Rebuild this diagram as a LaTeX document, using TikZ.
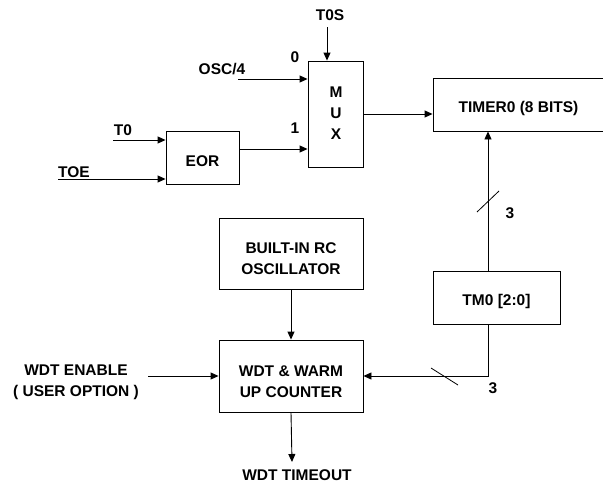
\documentclass[tikz,border=0pt]{standalone}
\usepackage{fontspec}
\setmainfont{Liberation Sans}
\usetikzlibrary{arrows.meta}
\begin{document}
\begin{tikzpicture}[x=1pt,y=-1pt,
  every node/.style={font=\fontsize{15.5}{21}\selectfont\bfseries, inner sep=0pt},
  blk/.style={draw, line width=0.9pt, align=center},
  wire/.style={line width=0.9pt},
  arr/.style={wire, -{Triangle[length=8pt,width=7pt]}},
  tick/.style={line width=0.8pt}]
\useasboundingbox (0,0) rectangle (603,485);
% blocks
\node[blk, minimum width=55pt, minimum height=106pt] (mux) at (335.5,114) {};
\node (muxt) at (336,113) [align=center] {M\\U\\X};
\node[blk, minimum width=73pt, minimum height=53pt] (eor) at (202.5,157.5) {};
\node (eort) at (202.5,161) {EOR};
\node[blk, minimum width=173pt, minimum height=53pt] (timer) at (519.5,104.5) {};
\node (timert) at (518.5,108) {TIMER0 (8 BITS)};
\node[blk, minimum width=127pt, minimum height=53pt] (tm0) at (496.5,297.5) {};
\node (tm0t) at (496.5,301) {TM0 [2:0]};
\node[blk, minimum width=144pt, minimum height=71pt] (rc) at (291,253.5) {};
\node (rct) at (291,259) [align=center] {BUILT-IN RC\\OSCILLATOR};
\node[blk, minimum width=144pt, minimum height=72pt] (wdt) at (291,376) {};
\node (wdtt) at (291,382) [align=center] {WDT \& WARM\\UP COUNTER};
% labels
\node (t0s) at (330,15) {T0S};
\node (osc) at (222,69) {OSC/4};
\node (l0) at (295,57) {0};
\node (l1) at (295,128) {1};
\node (t0) at (123,130) {T0};
\node (toe) at (74,172) {TOE};
\node (en) at (76,382) [align=center] {WDT ENABLE\\( USER OPTION )};
\node (timeout) at (297,475) {WDT TIMEOUT};
\node (n3a) at (510,213) {3};
\node (n3b) at (493,388) {3};
% free ends
\coordinate (t0sin) at (327,27);
\coordinate (oscin) at (238,79);
\coordinate (t0in) at (113,140);
\coordinate (toein) at (58,179);
\coordinate (enin) at (148,376);
\coordinate (toend) at (292,462);
\coordinate (eorout) at (239,149);
\coordinate (bus) at (488,0);
% connectors
\draw[arr] (t0sin) -- (t0sin |- mux.north);
\draw[arr] (oscin) -- (oscin -| mux.west);
\draw[arr] (eorout) -- (eorout -| mux.west);
\draw[arr] (t0in) -- (t0in -| eor.west);
\draw[arr] (toein) -- (toein -| eor.west);
\draw[arr] (mux.east) -- (mux.east -| timer.west);
\draw[arr] (bus |- tm0.north) -- (bus |- timer.south);
\draw[arr] (bus |- tm0.south) |- (wdt.east);
\draw[arr] (rc.south) -- (wdt.north);
\draw[arr] (enin) -- (wdt.west);
\draw[arr] (wdt.south) -- (toend);
% bus ticks
\draw[tick] (477,212) -- (499,191);
\draw[tick] (431,368) -- (458,385);
\end{tikzpicture}
\end{document}
